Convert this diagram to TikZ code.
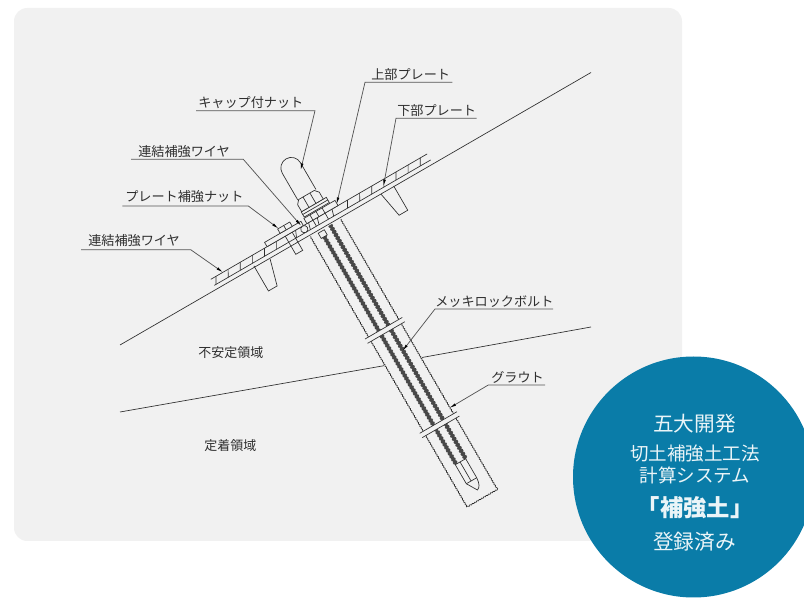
\documentclass[tikz,border=0pt]{standalone}
\usepackage{fontspec}
\setmainfont{Noto Sans CJK JP}
\usetikzlibrary{arrows.meta,decorations.pathmorphing}
\definecolor{panel}{HTML}{F1F1F1}
\definecolor{teal}{HTML}{0A7CA8}
\definecolor{ink}{HTML}{2E2E2E}
\definecolor{leadc}{HTML}{555555}
\definecolor{bar}{HTML}{484848}
\tikzset{
  lab/.style={font=\fontsize{9.85pt}{11pt}\selectfont,text=ink,inner sep=0pt,anchor=base west},
  region/.style={font=\fontsize{9.75pt}{11pt}\selectfont,text=ink,inner sep=0pt,anchor=base west},
  ctext/.style={font=\fontsize{13.9pt}{15pt}\selectfont,text=white!92!teal,inner sep=0pt},
  cbig/.style={font=\fontsize{15.5pt}{17pt}\selectfont,text=white!92!teal,inner sep=0pt},
  leader/.style={draw=leadc,line width=0.55pt},
  arrowed/.style={leader,-{Latex[length=5pt,width=2pt,black]}},
  ln/.style={draw=ink,line width=0.5pt},
  rough/.style={draw=ink,line width=0.5pt,decorate,decoration={zigzag,segment length=2pt,amplitude=0.35pt}},
  barcore/.style={draw=bar,line width=2.3pt},
  barrib/.style={draw=bar,line width=3.4pt,dash pattern=on 1.4pt off 1.2pt},
}
\begin{document}
\begin{tikzpicture}[x=0.75pt,y=-0.75pt]
\useasboundingbox (0,0) rectangle (804,598);
\clip (0,0) rectangle (804,598);
\fill[white] (0,0) rectangle (804,598);
\fill[panel,rounded corners=10pt] (14,8) rectangle (682,541);
% ground lines
\coordinate (s1) at (120,345); \coordinate (s2) at (591,72.5);
\coordinate (d1) at (120,412); \coordinate (d2) at (591,327);
\coordinate (d3) at (384,365.7); \coordinate (d4) at (422,357.5);
\draw[ln] (d1) -- (d3);
\draw[ln] (d4) -- (d2);
% local frame: u along slope, v along bolt
\begin{scope}[shift={(325,227)},rotate=30.1]
  % grout column
  \draw[rough] (-17.5,1) -- (-17.5,117);
  \draw[rough] (17.5,1) -- (17.5,117);
  \draw[rough] (-17.5,122) -- (-17.5,226);
  \draw[rough] (17.5,122) -- (17.5,226);
  \draw[rough] (-17.5,231) -- (-17.5,313.5) -- (17.5,313.5) -- (17.5,231);
  % bars
  \foreach \u/\s in {-5.5/8,5.5/1}{
    \draw[barcore] (\u,\s) -- (\u,271);
    \draw[barrib] (\u,\s) -- (\u,271);
  }
  % bands
  \foreach \v in {117,226}{
    \fill[panel] (-21.5,\v) rectangle (21.5,\v+5);
    \draw[ln] (-21.5,\v) -- (21.5,\v);
    \draw[ln] (-21.5,\v+5) -- (21.5,\v+5);
  }
  % tip
  \draw[ln,fill=panel] (-6.5,271) -- (-6.5,293) -- (0,304) .. controls (3,303) and (5,300) .. (5.5,293) -- (5.5,271) -- cycle;
  \draw[ln] (-1,271) -- (-1,293);
  \draw[ln] (-6.5,293) -- (5.5,293);
  % coupling under plate
  \draw[ln,fill=panel] (-9,2) rectangle (-2,8);
  % wedges
  \draw[ln,fill=panel] (65,0) -- (70,27) -- (80,27) -- (80,-1);
  \draw[ln,fill=panel] (-63.5,0) -- (-71,27) -- (-81,27) -- (-81,-2);
  % anchor bolt stub
  \draw[ln,fill=panel] (-39,0) -- (-39,9) -- (-31,9) -- (-31,0);
  % frame
  \draw[ln] (-125,-12) -- (125,-12);
  \draw[ln] (-125,-5) -- (125,-5);
  \foreach \u in {-119,-105,-91,-77,-63,-49,33,47,61,75,89,103,117}{
    \draw[ln] (\u,-12) -- (\u-4,-5);
  }
  % plate reinforcement: plate + nut + bolt
  \draw[ln,fill=panel] (-60,-17) rectangle (-18,-12);
  \draw[ln,fill=panel] (-42,-22) rectangle (-28,-17);
  \draw[ln] (-35,-22) -- (-35,-17);
  \draw[ln] (-39,-12) -- (-39,0);
  \draw[ln] (-31,-12) -- (-31,0);
  \draw[ln] (-27,-12) -- (-30,-5);
  % wire circle
  \draw[ln,fill=panel] (-19,-8.5) circle[radius=3.6];
  % upper plate, bolt, stacks
  \draw[ln,fill=panel] (-14,-18) rectangle (22,-12);
  \draw[ln,fill=panel] (-13,-25) rectangle (16,-19);
  \draw[ln] (-13,-22) -- (16,-22);
  \draw[ln] (-7,-18) -- (-7,-5);
  \draw[ln] (7,-18) -- (7,-5);
  \draw[ln] (0,-18) -- (0,-12);
  \draw[ln] (-2,-12) -- (-4,-5);
  \draw[ln] (-12,-12) -- (-14,-5);
  \draw[ln] (15,-12) -- (13,-5);
  % nut
  \draw[ln,fill=panel] (-12.5,-25) -- (-12.5,-33) -- (-9,-37) -- (9,-37) -- (12.5,-33) -- (12.5,-25) -- cycle;
  \draw[ln] (-4,-25) -- (-4,-37);
  \draw[ln] (4,-25) -- (4,-37);
  % cap
  \draw[ln] (-10,-37) -- (-10,-68) arc[start angle=180,end angle=360,radius=10.5] -- (11,-37);
  % named targets of leaders
  \coordinate (tcap) at (7.5,-61.5);
  \coordinate (tup) at (21.6,-14);
  \coordinate (tlow) at (71,-6);
  \coordinate (twire) at (-20,-13);
  \coordinate (tnut) at (-41,-22);
  \coordinate (twire2) at (-111,-12);
  \coordinate (tbolt) at (5,146);
  \coordinate (tgrout) at (17,219);
\end{scope}
\draw[ln] (s1) -- (s2);
% labels and leaders
\node[lab] (n1) at (198,108) {キャップ付ナット};
\node[lab] (n2) at (138,157) {連結補強ワイヤ};
\node[lab] (n3) at (125,202) {プレート補強ナット};
\node[lab] (n4) at (88,246) {連結補強ワイヤ};
\node[lab] (n5) at (371,80) {上部プレート};
\node[lab] (n6) at (397,116) {下部プレート};
\node[lab] (n7) at (435,307) {メッキロックボルト};
\node[lab] (n8) at (491,383) {グラウト};
\node[region] (r1) at (198,358) {不安定領域};
\node[region] (r2) at (204,451) {定着領域};
\draw[arrowed] (196,110.7) -- (315,110.7) -- (tcap);
\draw[arrowed] (131,159.3) -- (243.3,159.3) -- (twire);
\draw[arrowed] (122.3,206) -- (248.3,206) -- (tnut);
\draw[arrowed] (81,249.7) -- (190.7,249.7) -- (twire2);
\draw[arrowed] (452.3,82.3) -- (365,82.3) -- (tup);
\draw[arrowed] (476.7,118.3) -- (396,118.3) -- (tlow);
\draw[arrowed] (553,309) -- (435,309) -- (tbolt);
\draw[arrowed] (545,385) -- (488.3,385) -- (tgrout);
% badge
\fill[teal] (693.5,477) circle[radius=120.5];
\node[cbig] (c1) at (694.5,424) {五大開発};
\node[ctext] (c2) at (695,454) {切土補強土工法};
\node[ctext] (c3) at (695,475) {計算システム};
\node[ctext,font=\fontsize{17.5pt}{19pt}\selectfont\bfseries] (c4) at (695,508) {「補強土」};
\node[cbig] (c5) at (694.5,542) {登録済み};
\end{tikzpicture}
\end{document}
